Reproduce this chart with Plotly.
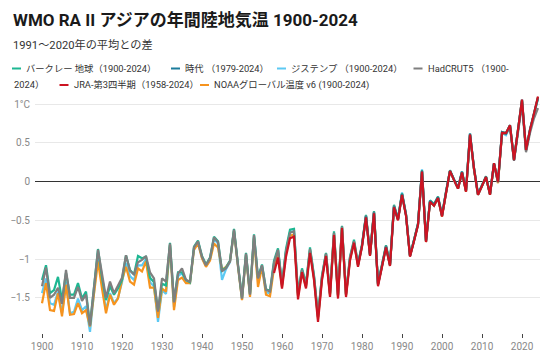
import plotly.graph_objects as go

years = list(range(1900, 2025))
years_era5 = list(range(1979, 2025))
years_jra = list(range(1958, 2025))

berkeley = [
    -1.27, -1.08, -1.44, -1.40, -1.23, -1.53, -1.18, -1.46, -1.46, -1.31,
    -1.51, -1.42, -1.85, -1.37, -0.87, -1.24, -1.53, -1.35, -1.46, -1.38,
    -1.27, -0.95, -1.14, -1.20, -0.96, -0.99, -0.97, -1.24, -1.30, -1.66,
    -1.32, -1.34, -0.79, -1.55, -1.17, -1.17, -1.27, -1.30, -0.84, -0.76,
    -0.96, -1.07, -0.98, -0.71, -0.77, -1.15, -1.11, -1.02, -0.61, -1.07,
    -1.50, -0.92, -1.45, -0.68, -1.24, -1.07, -1.39, -1.41, -1.02, -0.86,
    -1.32, -0.87, -0.62, -0.61, -1.44, -1.12, -1.32, -0.85, -1.21, -1.73,
    -1.21, -0.92, -1.44, -0.64, -1.46, -0.57, -1.45, -0.97, -0.75, -1.06,
    -0.81, -0.43, -0.93, -0.38, -1.31, -1.07, -0.82, -1.06, -0.30, -0.48,
    -0.15, -0.42, -0.95, -0.75, -0.54, 0.15, -0.76, -0.24, -0.29, -0.19,
    -0.43, -0.13, 0.15, 0.03, -0.08, 0.13, -0.11, 0.62, 0.18, -0.16,
    -0.05, 0.07, -0.16, 0.24, 0.00, 0.64, 0.63, 0.73, 0.29, 0.65,
    1.05, 0.41, 0.67, 0.88, 1.08,
]

era5 = [
    -1.08,
    -0.83, -0.45, -0.95, -0.40, -1.33, -1.09, -0.84, -1.08, -0.32, -0.49,
    -0.16, -0.43, -0.96, -0.76, -0.55, 0.14, -0.77, -0.25, -0.30, -0.20,
    -0.44, -0.14, 0.14, 0.03, -0.08, 0.13, -0.12, 0.62, 0.17, -0.16,
    -0.05, 0.06, -0.16, 0.24, 0.00, 0.64, 0.62, 0.73, 0.28, 0.65,
    1.06, 0.41, 0.67, 0.88, 1.09,
]

gistemp = [
    -1.44, -1.25, -1.57, -1.59, -1.42, -1.70, -1.29, -1.70, -1.68, -1.51,
    -1.66, -1.61, -1.94, -1.45, -0.92, -1.32, -1.66, -1.44, -1.57, -1.50,
    -1.30, -1.05, -1.22, -1.27, -1.08, -1.08, -1.00, -1.30, -1.35, -1.81,
    -1.40, -1.45, -0.82, -1.62, -1.22, -1.18, -1.30, -1.31, -0.86, -0.78,
    -0.98, -1.09, -1.00, -0.74, -0.80, -1.27, -1.13, -1.04, -0.63, -1.09,
    -1.52, -0.94, -1.47, -0.70, -1.27, -1.09, -1.43, -1.44, -1.07, -0.89,
    -1.34, -0.90, -0.65, -0.64, -1.46, -1.14, -1.34, -0.88, -1.23, -1.75,
    -1.23, -0.93, -1.45, -0.66, -1.47, -0.58, -1.46, -0.99, -0.78, -1.08,
    -0.83, -0.44, -0.95, -0.40, -1.33, -1.09, -0.84, -1.08, -0.32, -0.48,
    -0.14, -0.42, -0.96, -0.76, -0.55, 0.16, -0.77, -0.25, -0.31, -0.21,
    -0.44, -0.14, 0.14, 0.02, -0.09, 0.12, -0.12, 0.61, 0.17, -0.17,
    -0.06, 0.06, -0.17, 0.23, -0.01, 0.63, 0.60, 0.72, 0.28, 0.64,
    1.04, 0.40, 0.66, 0.87, 1.07,
]

hadcrut5 = [
    -1.35, -1.11, -1.50, -1.46, -1.37, -1.58, -1.14, -1.50, -1.50, -1.36,
    -1.54, -1.46, -1.86, -1.38, -0.88, -1.19, -1.50, -1.29, -1.44, -1.34,
    -1.24, -0.95, -1.15, -1.20, -1.04, -1.01, -0.96, -1.17, -1.25, -1.68,
    -1.25, -1.29, -0.80, -1.56, -1.19, -1.12, -1.27, -1.29, -0.85, -0.77,
    -0.97, -1.08, -0.99, -0.72, -0.78, -1.16, -1.12, -1.03, -0.62, -1.08,
    -1.51, -0.93, -1.46, -0.69, -1.25, -1.08, -1.40, -1.42, -1.05, -0.88,
    -1.33, -0.90, -0.66, -0.64, -1.46, -1.14, -1.34, -0.87, -1.23, -1.75,
    -1.23, -0.93, -1.45, -0.66, -1.47, -0.58, -1.46, -0.98, -0.77, -1.07,
    -0.82, -0.44, -0.94, -0.39, -1.32, -1.08, -0.83, -1.07, -0.31, -0.49,
    -0.16, -0.43, -0.96, -0.76, -0.55, 0.14, -0.77, -0.25, -0.30, -0.20,
    -0.44, -0.14, 0.14, 0.02, -0.09, 0.12, -0.12, 0.60, 0.16, -0.17,
    -0.06, 0.06, -0.16, 0.23, -0.01, 0.62, 0.62, 0.71, 0.27, 0.62,
    1.00, 0.38, 0.63, 0.82, 0.95,
]

jra3q = [
    -1.18, -0.98,
    -1.38, -0.97, -0.73, -0.71, -1.52, -1.17, -1.38, -0.92, -1.27, -1.81,
    -1.27, -0.96, -1.49, -0.69, -1.51, -0.60, -1.49, -1.02, -0.79, -1.10,
    -0.84, -0.46, -0.96, -0.41, -1.35, -1.10, -0.85, -1.09, -0.33, -0.50,
    -0.17, -0.44, -0.97, -0.77, -0.56, 0.13, -0.78, -0.26, -0.31, -0.21,
    -0.45, -0.15, 0.14, 0.02, -0.09, 0.12, -0.13, 0.61, 0.17, -0.17,
    -0.06, 0.06, -0.17, 0.24, 0.00, 0.63, 0.63, 0.73, 0.28, 0.65,
    1.06, 0.41, 0.67, 0.88, 1.10,
]

noaa = [
    -1.57, -1.31, -1.66, -1.67, -1.44, -1.74, -1.33, -1.72, -1.71, -1.57,
    -1.70, -1.66, -1.87, -1.45, -1.03, -1.38, -1.70, -1.46, -1.59, -1.51,
    -1.27, -1.10, -1.29, -1.33, -1.12, -1.16, -1.03, -1.37, -1.37, -1.76,
    -1.38, -1.42, -0.82, -1.66, -1.27, -1.24, -1.31, -1.31, -0.88, -0.80,
    -0.99, -1.10, -1.02, -0.80, -0.85, -1.14, -1.10, -1.03, -0.64, -1.10,
    -1.53, -0.95, -1.49, -0.72, -1.36, -1.10, -1.46, -1.48, -1.12, -0.92,
    -1.36, -0.92, -0.70, -0.68, -1.48, -1.16, -1.36, -0.89, -1.25, -1.77,
    -1.25, -0.94, -1.47, -0.67, -1.49, -0.59, -1.47, -1.00, -0.78, -1.08,
    -0.83, -0.45, -0.95, -0.40, -1.33, -1.09, -0.84, -1.08, -0.32, -0.49,
    -0.16, -0.43, -0.96, -0.76, -0.55, 0.13, -0.78, -0.26, -0.31, -0.21,
    -0.45, -0.15, 0.14, 0.02, -0.09, 0.12, -0.13, 0.60, 0.16, -0.17,
    -0.06, 0.06, -0.17, 0.23, -0.02, 0.62, 0.62, 0.72, 0.28, 0.64,
    1.05, 0.40, 0.66, 0.87, 1.09,
]

series_names = [
    "バークレー 地球（1900-2024）",
    "時代 （1979-2024）",
    "ジステンプ （1900-2024）",
    "HadCRUT5 （1900-2024）",
    "JRA-第3四半期（1958-2024）",
    "NOAAグローバル温度 v6 (1900-2024)",
]
colors = {
    "berkeley": "#1db792",
    "era5": "#1c7c9c",
    "gistemp": "#5cc9f3",
    "hadcrut5": "#7f7f7f",
    "jra3q": "#cc1422",
    "noaa": "#f6931e",
}

x_ticks = list(range(1900, 2021, 10))
y_ticks = [-1.5, -1, -0.5, 0, 0.5, 1]
y_tick_text = ["−1.5", "−1", "−0.5", "0", "0.5", "1°C"]

title = "WMO RA II アジアの年間陸地気温 1900-2024"
subtitle = "1991〜2020年の平均との差"

FONT = "Roboto, 'Noto Sans CJK JP', sans-serif"
W, H = 540, 358
ML, MR, MT, MB = 35, 0, 95, 25
PW, PH = W - ML - MR, H - MT - MB


def px(xp):
    return (xp - ML) / PW


def py(yp):
    return (H - MB - yp) / PH


fig = go.Figure()
draw = [
    ("gistemp", years, gistemp, series_names[2]),
    ("noaa", years, noaa, series_names[5]),
    ("berkeley", years, berkeley, series_names[0]),
    ("hadcrut5", years, hadcrut5, series_names[3]),
    ("era5", years_era5, era5, series_names[1]),
    ("jra3q", years_jra, jra3q, series_names[4]),
]
for key, xs, ys, name in draw:
    fig.add_trace(go.Scatter(
        x=xs, y=ys, mode="lines", name=name, showlegend=False,
        line=dict(color=colors[key], width=2.2),
        hoverinfo="skip",
    ))

annotations = [
    dict(text=f"<b>{title}</b>", x=px(11), y=py(20), xref="paper", yref="paper",
         xanchor="left", yanchor="middle", showarrow=False,
         font=dict(family=FONT, size=17, color="#1a1a1a")),
    dict(text=subtitle, x=px(11), y=py(45), xref="paper", yref="paper",
         xanchor="left", yanchor="middle", showarrow=False,
         font=dict(family=FONT, size=11.2, color="#333333")),
]
shapes = []

legend_items = [
    ("berkeley", "バークレー 地球（1900-2024）", 12, 68.5),
    ("era5", "時代 （1979-2024）", 171, 68.5),
    ("gistemp", "ジステンプ （1900-2024）", 277, 68.5),
    ("hadcrut5", "HadCRUT5 （1900-", 413.5, 68.5),
    (None, "2024）", 12, 85),
    ("jra3q", "JRA-第3四半期（1958-2024）", 59.5, 85),
    ("noaa", "NOAAグローバル温度 v6 (1900-2024)", 200, 85),
]
for key, label, sx, sy in legend_items:
    tx = sx
    if key is not None:
        shapes.append(dict(type="line", xref="paper", yref="paper",
                           x0=px(sx), x1=px(sx + 9), y0=py(sy), y1=py(sy),
                           line=dict(color=colors[key], width=2)))
        tx = sx + 12
    annotations.append(dict(text=label, x=px(tx), y=py(sy), xref="paper", yref="paper",
                            xanchor="left", yanchor="middle", showarrow=False,
                            font=dict(family=FONT, size=9.3, color="#333333")))

fig.update_layout(
    width=W, height=H,
    margin=dict(l=ML, r=MR, t=MT, b=MB, pad=0),
    paper_bgcolor="white", plot_bgcolor="white",
    font=dict(family=FONT, size=10, color="#888888"),
    showlegend=False,
    annotations=annotations,
    shapes=shapes,
    xaxis=dict(range=[1898.25, 2024.5], tickvals=x_ticks, ticks="outside",
               ticklen=4, tickcolor="#444444", tickwidth=1, showgrid=False,
               showline=False, zeroline=False, fixedrange=True,
               tickfont=dict(family=FONT, size=10, color="#888888")),
    yaxis=dict(range=[-1.955, 1.12], tickvals=y_ticks, ticktext=y_tick_text,
               showgrid=True, gridcolor="#e8e8e8", gridwidth=1,
               zeroline=True, zerolinecolor="#333333", zerolinewidth=1.3,
               showline=False, ticks="", ticklabelstandoff=4, fixedrange=True,
               tickfont=dict(family=FONT, size=10, color="#888888")),
)

fig.write_html("out.html", config={"displayModeBar": False},
               post_script="document.body.style.margin='0';document.body.style.overflow='hidden';")
